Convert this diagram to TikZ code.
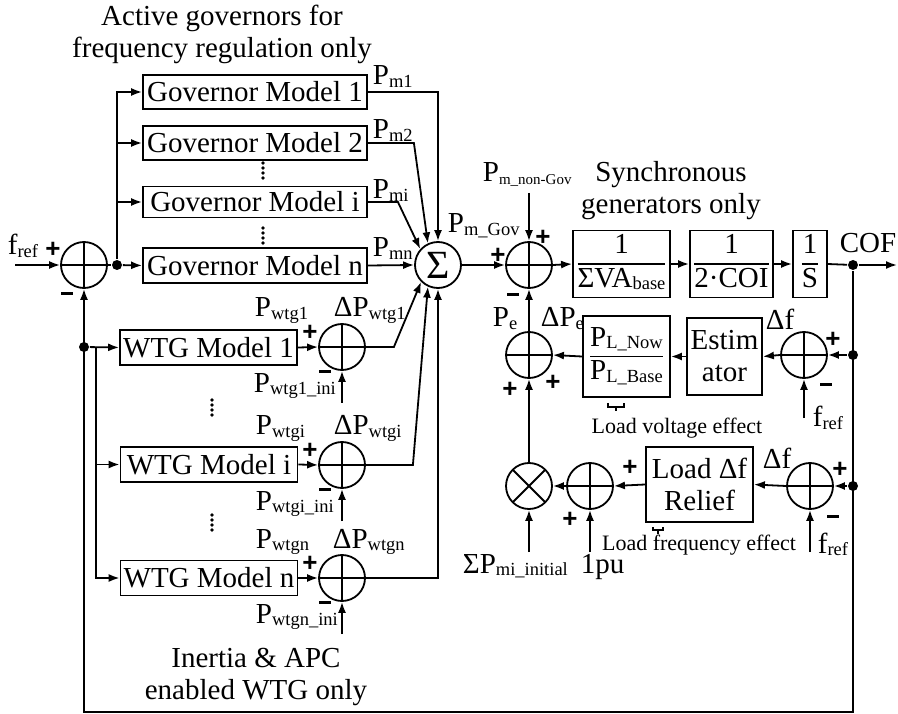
\documentclass[tikz,border=0pt]{standalone}
\usepackage{fontspec}
\setmainfont{Liberation Serif}
\newfontfamily\signfont{Liberation Sans}
\usetikzlibrary{arrows.meta, positioning}

\newcommand{\sbs}[1]{\raisebox{-2.5pt}{\fontsize{18.5}{20}\selectfont #1}}
\newcommand{\sbsm}[1]{\raisebox{-2.5pt}{\fontsize{15}{16}\selectfont #1}}
\newcommand{\frc}[2]{\begin{tabular}{@{}c@{}}#1\\\hline #2\end{tabular}}
\newcommand{\mns}{\rule{12pt}{3pt}}
\setlength{\arrayrulewidth}{1.4pt}

\tikzset{
  blk/.style={draw, inner xsep=3pt, inner ysep=0pt},
  sumc/.style={draw, circle, minimum size=46pt, inner sep=0pt,
    path picture={\draw (path picture bounding box.north) -- (path picture bounding box.south)
      (path picture bounding box.west) -- (path picture bounding box.east);}},
  mulc/.style={draw, circle, minimum size=46pt, inner sep=0pt,
    path picture={\draw (path picture bounding box.north west) -- (path picture bounding box.south east)
      (path picture bounding box.south west) -- (path picture bounding box.north east);}},
  jdot/.style={circle, fill, inner sep=0pt, minimum size=10pt},
  lbl/.style={anchor=base west, inner sep=0pt},
  sgn/.style={inner sep=0pt, font=\fontsize{26}{26}\signfont\bfseries},
  arr/.style={-{Latex[length=11pt,width=8pt]}}
}

\begin{document}
\begin{tikzpicture}[x=1pt, y=-1pt, line width=1.8pt, font=\fontsize{29}{32}\selectfont]
  \useasboundingbox (0,0) rectangle (898,714);
  % captions
  \node[align=center, anchor=north, inner sep=0pt] (capgov) at (222,4) {Active governors for\\frequency regulation only};
  \node[align=center, anchor=north, inner sep=0pt] (capsyn) at (671,160) {Synchronous\\generators only};
  \node[align=center, anchor=north, inner sep=0pt] (capwtg) at (256,647) {Inertia \& APC\\enabled WTG only};

  % input sum and governors
  \node[sumc] (sum1) at (84,265) {};
  \coordinate (fin) at (15,265);
  \node[lbl] at (7,255) {f\sbs{ref}};
  \node[sgn] at (53,250) {+};
  \node[sgn] at (67,293) {\mns};
  \draw[arr] (fin) -- (sum1.west);
  \node[blk, minimum width=224pt, minimum height=34pt] (gov1) at (255,92) {Governor Model 1};
  \node[blk, minimum width=224pt, minimum height=34pt] (gov2) at (255,143) {Governor Model 2};
  \node[blk, minimum width=224pt, minimum height=31pt] (govi) at (255,202) {Governor Model i};
  \node[blk, minimum width=224pt, minimum height=35pt] (govn) at (255,265.5) {Governor Model n};
  \foreach \y in {163,228} \foreach \k in {0,...,3} \fill (263,\y+5*\k) circle (1.8pt);
  \node[jdot] (jgov) at (117,265) {};
  \draw (sum1.east) -- (jgov);
  \draw[arr] (jgov) -- (govn.west);
  \draw[arr] (jgov) |- (gov1.west);
  \draw[arr] (jgov |- gov2.west) -- (gov2.west);
  \draw[arr] (jgov |- govi.west) -- (govi.west);

  % summation of mechanical power
  \node[draw, circle, minimum size=46pt, inner sep=0pt, font=\fontsize{40}{40}\selectfont] (sig) at (438,265) {Σ};
  \draw[arr] (gov1.east) -| (sig.north);
  \draw[arr] (gov2.east) -- ++(46,0) -- (sig.115);
  \draw[arr] (govi.east) -- ++(30,0) -- (sig.138);
  \draw[arr] (govn.east) -- (sig.west);
  \node[lbl] at (372,85) {P\sbs{m1}};
  \node[lbl] at (372,139) {P\sbs{m2}};
  \node[lbl] at (372,199) {P\sbs{mi}};
  \node[lbl] at (372,257) {P\sbs{mn}};

  % wind turbine generators
  \node[jdot] (jwtg) at (84,347) {};
  \coordinate (wbus) at (96,347);
  \node[blk, minimum width=177pt, minimum height=35pt] (wtg1) at (208.5,347.5) {WTG Model 1};
  \node[blk, minimum width=177pt, minimum height=35pt] (wtgi) at (209,464.5) {WTG Model i};
  \node[blk, minimum width=177pt, minimum height=35pt] (wtgn) at (209,578) {WTG Model n};
  \foreach \y in {400,515} \foreach \k in {0,...,3} \fill (212,\y+5*\k) circle (1.8pt);
  \draw[arr] (jwtg) -- (wtg1.west);
  \draw[arr] (wbus) |- (wtgi.west);
  \draw[arr] (wbus) |- (wtgn.west);
  \foreach \n/\y in {1/347, i/465, n/578} {
    \node[sumc] (ws\n) at (342,\y) {};
    \coordinate (wini\n) at (342,\y+56);
    \draw[arr] (wtg\n.east) -- (ws\n.west);
    \draw[arr] (wini\n) -- (ws\n.south);
    \node[sgn] at (310,\y-14) {+};
    \node[sgn] at (325,\y+24) {\mns};
  }
  \node[lbl] at (254,317) {P\sbs{wtg1}};
  \node[lbl] at (333,317) {ΔP\sbs{wtg1}};
  \node[lbl] at (253,392) {P\sbs{wtg1\_ini}};
  \node[lbl] at (255,435) {P\sbs{wtgi}};
  \node[lbl] at (333,435) {ΔP\sbs{wtgi}};
  \node[lbl] at (255,510) {P\sbs{wtgi\_ini}};
  \node[lbl] at (255,548) {P\sbs{wtgn}};
  \node[lbl] at (332,548) {ΔP\sbs{wtgn}};
  \node[lbl] at (255,623) {P\sbs{wtgn\_ini}};
  \draw[arr] (ws1.east) -- ++(28,0) -- (sig.225);
  \draw[arr] (wsi.east) -- ++(47,0) -- (sig.245);
  \draw[arr] (wsn.east) -| (sig.south);

  % swing equation chain
  \node[sumc] (sum2) at (529,265) {};
  \coordinate (pmng) at (529,193);
  \node[lbl] at (482,182) {P\sbsm{m\_non-Gov}};
  \node[lbl] at (447,233) {P\sbs{m\_Gov}};
  \node[sgn] at (498,256) {+};
  \node[sgn] at (543,238) {+};
  \node[sgn] at (513,295) {\mns};
  \node[blk, minimum width=97pt, minimum height=67pt] (vab) at (621.5,264) {\frc{1}{ΣVA\sbs{base}}};
  \node[blk, minimum width=83pt, minimum height=67pt] (coi) at (731.5,264) {\frc{1}{2·COI}};
  \node[blk, minimum width=34pt, minimum height=67pt] (ints) at (810,264) {\frc{1}{S}};
  \node[jdot] (cof) at (853,265) {};
  \coordinate (cofout) at (897,265);
  \node[lbl] at (839,253) {COF};
  \draw[arr] (sig.east) -- (sum2.west);
  \draw[arr] (pmng) -- (sum2.north);
  \draw[arr] (sum2.east) -- (vab.west);
  \draw[arr] (vab.east) -- (coi.west);
  \draw[arr] (coi.east) -- (ints.west);
  \draw (ints.east) -- (cof);
  \draw[arr] (cof) -- (cofout);

  % frequency feedback
  \coordinate (fbr) at (853,712);
  \coordinate (fbl) at (84,712);
  \draw[arr] (cof) -- (fbr) -- (fbl) -- (sum1.south);
  \node[jdot] (jest) at (853,355) {};
  \node[jdot] (jrel) at (853,486) {};

  % load voltage effect
  \node[sumc] (esum) at (804,355) {};
  \node[blk, minimum width=75pt, minimum height=77pt, align=center] (est) at (724.5,356.5) {Estim\\ator};
  \node[blk, minimum width=87pt, minimum height=81pt] (plb) at (626.5,356.5) {\frc{P\sbs{L\_Now}}{P\sbs{L\_Base}}};
  \node[sumc] (pesum) at (529,355) {};
  \coordinate (fref1) at (804,418);
  \draw[arr] (jest) -- (esum.east);
  \draw[arr] (esum.west) -- (est.east);
  \draw[arr] (est.west) -- (plb.east);
  \draw[arr] (plb.west) -- (pesum.east);
  \draw[arr] (pesum.north) -- (sum2.south);
  \draw[arr] (fref1) -- (esum.south);
  \node[lbl] at (765,330) {Δf};
  \node[sgn] at (833,340) {+};
  \node[sgn] at (826,384) {\mns};
  \node[lbl] at (812,427) {f\sbs{ref}};
  \node[lbl] at (492,327) {P\sbs{e}};
  \node[lbl] at (540,327) {ΔP\sbs{e}};
  \node[sgn] at (510,390) {+};
  \node[sgn] at (553,383) {+};
  \draw[line width=1.2pt] (608,403) -- (608,407) -- (624,407) -- (624,403) (616,407) -- (616,411);
  \node[anchor=base, inner sep=0pt, font=\fontsize{22}{24}\selectfont] at (677,433) {Load voltage effect};

  % load frequency effect
  \node[sumc] (rsum) at (810,486) {};
  \node[blk, minimum width=107pt, minimum height=75pt, align=center] (rlf) at (699.5,484.5) {Load Δf\\Relief};
  \node[sumc] (msum) at (590,486) {};
  \node[mulc] (mult) at (529,486) {};
  \coordinate (fref2) at (810,552);
  \coordinate (onepu) at (590,552);
  \coordinate (pmini) at (529,552);
  \draw[arr] (jrel) -- (rsum.east);
  \draw[arr] (rsum.west) -- (rlf.east);
  \draw[arr] (rlf.west) -- (msum.east);
  \draw[arr] (msum.west) -- (mult.east);
  \draw[arr] (mult.north) -- (pesum.south);
  \draw[arr] (fref2) -- (rsum.south);
  \draw[arr] (onepu) -- (msum.south);
  \draw[arr] (pmini) -- (mult.south);
  \node[lbl] at (762,468) {Δf};
  \node[sgn] at (840,470) {+};
  \node[sgn] at (833,516) {\mns};
  \node[lbl] at (817,553) {f\sbs{ref}};
  \node[sgn] at (630,468) {+};
  \node[sgn] at (570,520) {+};
  \node[lbl] at (462,573) {ΣP\sbs{mi\_initial}};
  \node[lbl] at (580,573) {1pu};
  \draw[line width=1.2pt] (653,527) -- (653,530) -- (663,530) -- (663,527) (658,530) -- (658,534);
  \node[anchor=base, inner sep=0pt, font=\fontsize{22}{24}\selectfont] at (699,550) {Load frequency effect};
\end{tikzpicture}
\end{document}
